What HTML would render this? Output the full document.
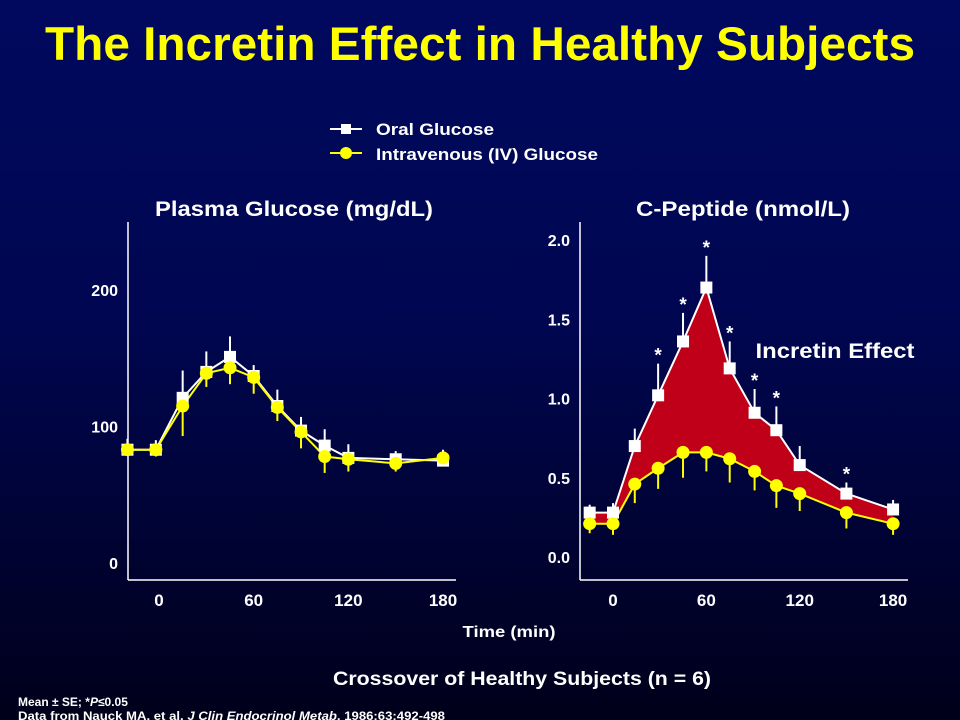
<!DOCTYPE html>
<html><head><meta charset="utf-8"><style>
html,body{margin:0;padding:0;width:960px;height:720px;overflow:hidden;background:#000;}
svg{display:block;font-family:"Liberation Sans",Arial,sans-serif;font-weight:bold;}
</style></head><body>
<svg id="s" width="960" height="720" viewBox="0 0 960 720">
<defs><linearGradient id="bg" x1="0" y1="0" x2="0" y2="1">
<stop offset="0" stop-color="#00095e"/><stop offset="0.45" stop-color="#000650"/><stop offset="1" stop-color="#00001a"/></linearGradient></defs>
<rect width="960" height="720" fill="url(#bg)"/>
<text x="480" y="60" text-anchor="middle" fill="#ffff00" font-size="47" textLength="870" lengthAdjust="spacingAndGlyphs">The Incretin Effect in Healthy Subjects</text>
<g>
<line x1="330" y1="129" x2="362" y2="129" stroke="#fff" stroke-width="2"/><rect x="341" y="124" width="10" height="10" fill="#fff"/>
<text x="376" y="135" fill="#fff" font-size="17" textLength="118" lengthAdjust="spacingAndGlyphs">Oral Glucose</text>
<line x1="330" y1="153" x2="362" y2="153" stroke="#ffff00" stroke-width="2"/><circle cx="346" cy="153" r="6" fill="#ffff00"/>
<text x="376" y="160" fill="#fff" font-size="17" textLength="222" lengthAdjust="spacingAndGlyphs">Intravenous (IV) Glucose</text>
</g>
<text x="294" y="216" text-anchor="middle" fill="#fff" font-size="21" textLength="278" lengthAdjust="spacingAndGlyphs">Plasma Glucose (mg/dL)</text>
<text x="743" y="216" text-anchor="middle" fill="#fff" font-size="21" textLength="214" lengthAdjust="spacingAndGlyphs">C-Peptide (nmol/L)</text>
<text x="509" y="637" text-anchor="middle" fill="#fff" font-size="16" textLength="93" lengthAdjust="spacingAndGlyphs">Time (min)</text>
<text x="522" y="685" text-anchor="middle" fill="#fff" font-size="19" textLength="378" lengthAdjust="spacingAndGlyphs">Crossover of Healthy Subjects (n = 6)</text>
<text x="18" y="706" fill="#fff" font-size="12">Mean ± SE; *<tspan font-style="italic">P</tspan>≤0.05</text>
<text x="18" y="720" fill="#fff" font-size="12" textLength="427" lengthAdjust="spacingAndGlyphs">Data from Nauck MA, et al. <tspan font-style="italic">J Clin Endocrinol Metab</tspan>. 1986;63:492-498</text>
<text x="835" y="358" text-anchor="middle" fill="#fff" font-size="21" textLength="159" lengthAdjust="spacingAndGlyphs">Incretin Effect</text>
<g id="L"></g>
<g id="R"></g>
</svg>
<script>
const times = [-20, -2, 15, 30, 45, 60, 75, 90, 105, 120, 150, 180];
const rTimes = [-15, 0, 14, 29, 45, 60, 75, 91, 105, 120, 150, 180];
const xTicks = [0, 60, 120, 180];
const glucoseTicks = [0, 100, 200];
const cpepTicks = ["0.0", "0.5", "1.0", "1.5", "2.0"];
const glucoseOral = [83, 83, 121, 140, 151, 137, 115, 97, 86, 77, 76, 75];
const glucoseOralErr = [8, 7, 20, 15, 15, 8, 12, 10, 12, 10, 6, 8];
const glucoseIV = [83, 83, 115, 139, 143, 136, 114, 96, 78, 76, 73, 77];
const glucoseIVErr = [3, 5, 22, 10, 12, 12, 10, 12, 12, 9, 6, 6];
const cpepOral = [0.28, 0.28, 0.70, 1.02, 1.36, 1.70, 1.19, 0.91, 0.80, 0.58, 0.40, 0.30];
const cpepOralErr = [0.05, 0.06, 0.11, 0.2, 0.18, 0.2, 0.17, 0.15, 0.15, 0.12, 0.07, 0.06];
const cpepIV = [0.21, 0.21, 0.46, 0.56, 0.66, 0.66, 0.62, 0.54, 0.45, 0.40, 0.28, 0.21];
const cpepIVErr = [0.06, 0.07, 0.12, 0.13, 0.16, 0.12, 0.15, 0.12, 0.14, 0.11, 0.1, 0.07];
const sigFlags = [0, 0, 0, 1, 1, 1, 1, 1, 1, 0, 1, 0];

const NS = "http://www.w3.org/2000/svg";
function mk(p, tag, a) { const e = document.createElementNS(NS, tag); for (const k in a) e.setAttribute(k, a[k]); p.appendChild(e); return e; }

function chart(g, ax, xs, oral, oe, iv, ie, ticks, tickVals, fill) {
  const X = t => ax.x0 + (t - 0) * ax.kx;
  const Y = v => ax.y0 - v * ax.ky;
  let e = mk(g, "line", {x1: ax.left, y1: ax.top, x2: ax.left, y2: ax.bottom, stroke: "#fff", "stroke-width": 1.5});
  
  
  e = mk(g, "line", {x1: ax.left, y1: ax.bottom, x2: ax.right, y2: ax.bottom, stroke: "#fff", "stroke-width": 1.5});
  
  
  xTicks.forEach(t => {
    const tx = mk(g, "text", {x: X(t), y: ax.bottom + 26, "text-anchor": "middle", fill: "#fff", "font-size": 17});
    tx.textContent = t;
    
    
  });
  ticks.forEach((lab, i) => {
    const tx = mk(g, "text", {x: ax.left - 10, y: Y(tickVals[i]) + 6, "text-anchor": "end", fill: "#fff", "font-size": 16});
    tx.textContent = lab;
    
    
  });
  if (fill) {
    let d = "M" + xs.map((t, i) => X(t) + "," + Y(oral[i])).join("L");
    for (let i = xs.length - 1; i >= 0; i--) d += "L" + X(xs[i]) + "," + Y(iv[i]);
    e = mk(g, "path", {d: d + "Z", fill: "#c00018"});
    
    
  }
  xs.forEach((t, i) => {
    e = mk(g, "line", {x1: X(t), y1: Y(oral[i]), x2: X(t), y2: Y(oral[i] + oe[i]), stroke: "#fff", "stroke-width": 2});
    
    
    e = mk(g, "line", {x1: X(t), y1: Y(iv[i]), x2: X(t), y2: Y(iv[i] - ie[i]), stroke: "#ffff00", "stroke-width": 2});
    
    
  });
  e = mk(g, "polyline", {points: xs.map((t, i) => X(t) + "," + Y(oral[i])).join(" "), fill: "none", stroke: "#fff", "stroke-width": 2});
  
  
  e = mk(g, "polyline", {points: xs.map((t, i) => X(t) + "," + Y(iv[i])).join(" "), fill: "none", stroke: "#ffff00", "stroke-width": 2});
  
  
  xs.forEach((t, i) => {
    e = mk(g, "rect", {x: X(t) - 6, y: Y(oral[i]) - 6, width: 12, height: 12, fill: "#fff"});
    
    
  });
  xs.forEach((t, i) => {
    e = mk(g, "circle", {cx: X(t), cy: Y(iv[i]), r: 6.5, fill: "#ffff00"});
    
    
  });
  if (fill) {
    xs.forEach((t, i) => {
      if (!sigFlags[i]) return;
      const s = mk(g, "text", {x: X(t), y: Y(oral[i] + oe[i]) - 2, "text-anchor": "middle", fill: "#fff", "font-size": 19});
      s.textContent = "*";
      
      
    });
  }
}
chart(document.getElementById("L"), {x0: 159, kx: 1.578, y0: 563, ky: 1.365, left: 128, right: 456, top: 222, bottom: 580},
  times, glucoseOral, glucoseOralErr, glucoseIV, glucoseIVErr, glucoseTicks.map(String), glucoseTicks, false);
chart(document.getElementById("R"), {x0: 613, kx: 1.556, y0: 557, ky: 158.5, left: 580, right: 908, top: 222, bottom: 580},
  rTimes, cpepOral, cpepOralErr, cpepIV, cpepIVErr, cpepTicks, cpepTicks.map(Number), true);
</script>
</body></html>
